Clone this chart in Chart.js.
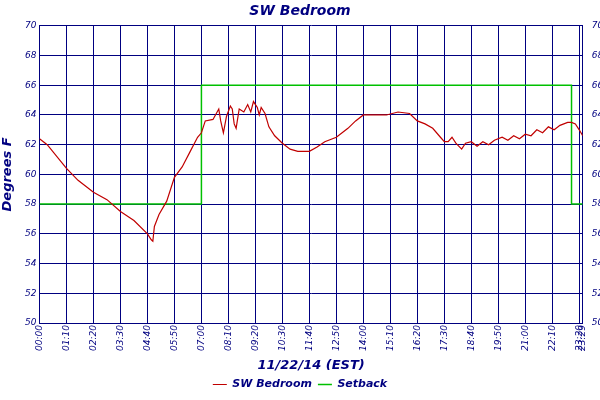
<!DOCTYPE html>
<html>
<head>
<script src="https://cdn.jsdelivr.net/npm/chart.js@4"></script>
<style>body{margin:0;background:#fff;overflow:hidden}#wrap{width:600px;height:400px}</style>
</head>
<body>
<div id="wrap"><canvas id="myChart"></canvas></div>
<script>
// minutes after midnight and temperature (F)
const tempMin = [0,20,70,100,140,175,210,245,280,290,294,298,310,330,350,370,390,410,420,430,450,465,470,477,485,495,500,505,510,518,530,540,548,555,565,570,575,585,595,610,630,650,670,700,720,740,770,800,820,840,870,900,930,960,980,1000,1020,1040,1050,1060,1070,1080,1095,1105,1120,1135,1150,1165,1180,1200,1215,1230,1245,1260,1275,1290,1305,1320,1335,1350,1370,1380,1390,1400,1409];
const tempVal = [62.4,62.0,60.4,59.6,58.8,58.3,57.5,56.9,56.0,55.6,55.5,56.5,57.3,58.2,59.8,60.5,61.5,62.5,62.8,63.6,63.7,64.4,63.6,62.8,63.9,64.6,64.4,63.4,63.1,64.4,64.2,64.7,64.2,64.9,64.5,64.0,64.5,64.1,63.2,62.6,62.1,61.7,61.55,61.55,61.85,62.2,62.5,63.1,63.6,64.0,64.0,64.0,64.2,64.1,63.6,63.4,63.1,62.5,62.2,62.2,62.5,62.1,61.7,62.1,62.2,61.9,62.2,62.0,62.3,62.5,62.3,62.6,62.4,62.7,62.6,63.0,62.8,63.2,63.0,63.3,63.5,63.5,63.4,63.0,62.6];
const setMin = [0,420,420,1380,1380,1409];
const setVal = [58,58,66,66,58,58];
const xTicks = [0,70,140,210,280,350,420,490,560,630,700,770,840,910,980,1050,1120,1190,1260,1330,1400,1409];

function hhmm(m){
    var h = Math.floor(m/60), mm = m%60;
    return String(h).padStart(2,'0') + ':' + String(mm).padStart(2,'0');
}
const navy = '#000080';
const tickFont = {family:'DejaVu Sans', size:9, style:'italic'};

var ctx = document.getElementById('myChart').getContext('2d');
var myChart = new Chart(ctx, {
    type: 'line',
    data: {
        datasets: [{
            label: 'SW Bedroom',
            data: tempMin.map((m,i) => ({x:m, y:tempVal[i]})),
            borderColor: '#c00000', borderWidth: 1.2, pointRadius: 0, tension: 0
        },{
            label: 'Setback',
            data: setMin.map((m,i) => ({x:m, y:setVal[i]})),
            borderColor: '#00c000', borderWidth: 1.5, pointRadius: 0
        }]
    },
    options: {
        animation: false, responsive: true, maintainAspectRatio: false,
        plugins: {
            title: {display: true, text: 'SW Bedroom', color: navy,
                font: {family:'DejaVu Sans', size:14, style:'italic', weight:'bold'}, padding: {top:3, bottom:6}},
            legend: {position: 'bottom', labels: {color: navy, boxWidth: 14, boxHeight: 0,
                font: {family:'DejaVu Sans', size:11, style:'italic', weight:'bold'}, padding: 6}},
            tooltip: {enabled: false}
        },
        scales: {
            x: {
                type: 'linear', min: 0, max: 1409,
                afterBuildTicks: ax => { ax.ticks = xTicks.map(v => ({value: v})); },
                afterFit: ax => { ax.height = 50; },
                ticks: {color: navy, font: tickFont, maxRotation: 90, minRotation: 90, autoSkip: false,
                    callback: v => hhmm(v), padding: 2},
                grid: {color: navy, lineWidth: 1, drawTicks: false},
                border: {color: navy},
                title: {display: true, text: '11/22/14 (EST)', color: navy, padding: {top:0, bottom:0},
                    font: {family:'DejaVu Sans', size:13, style:'italic', weight:'bold'}}
            },
            y: {
                min: 50, max: 70,
                afterFit: ax => { ax.width = 39.5; },
                ticks: {stepSize: 2, color: navy, font: tickFont, padding: 3},
                grid: {color: navy, lineWidth: 1, drawTicks: false},
                border: {color: navy},
                title: {display: true, text: 'Degrees F', color: navy, padding: 0,
                    font: {family:'DejaVu Sans', size:13, style:'italic', weight:'bold'}}
            },
            y2: {
                position: 'right', min: 50, max: 70,
                afterFit: ax => { ax.width = 17.3; },
                ticks: {stepSize: 2, color: navy, font: tickFont, padding: 1},
                grid: {display: false},
                border: {color: navy}
            }
        }
    }
});
</script>
</body>
</html>
